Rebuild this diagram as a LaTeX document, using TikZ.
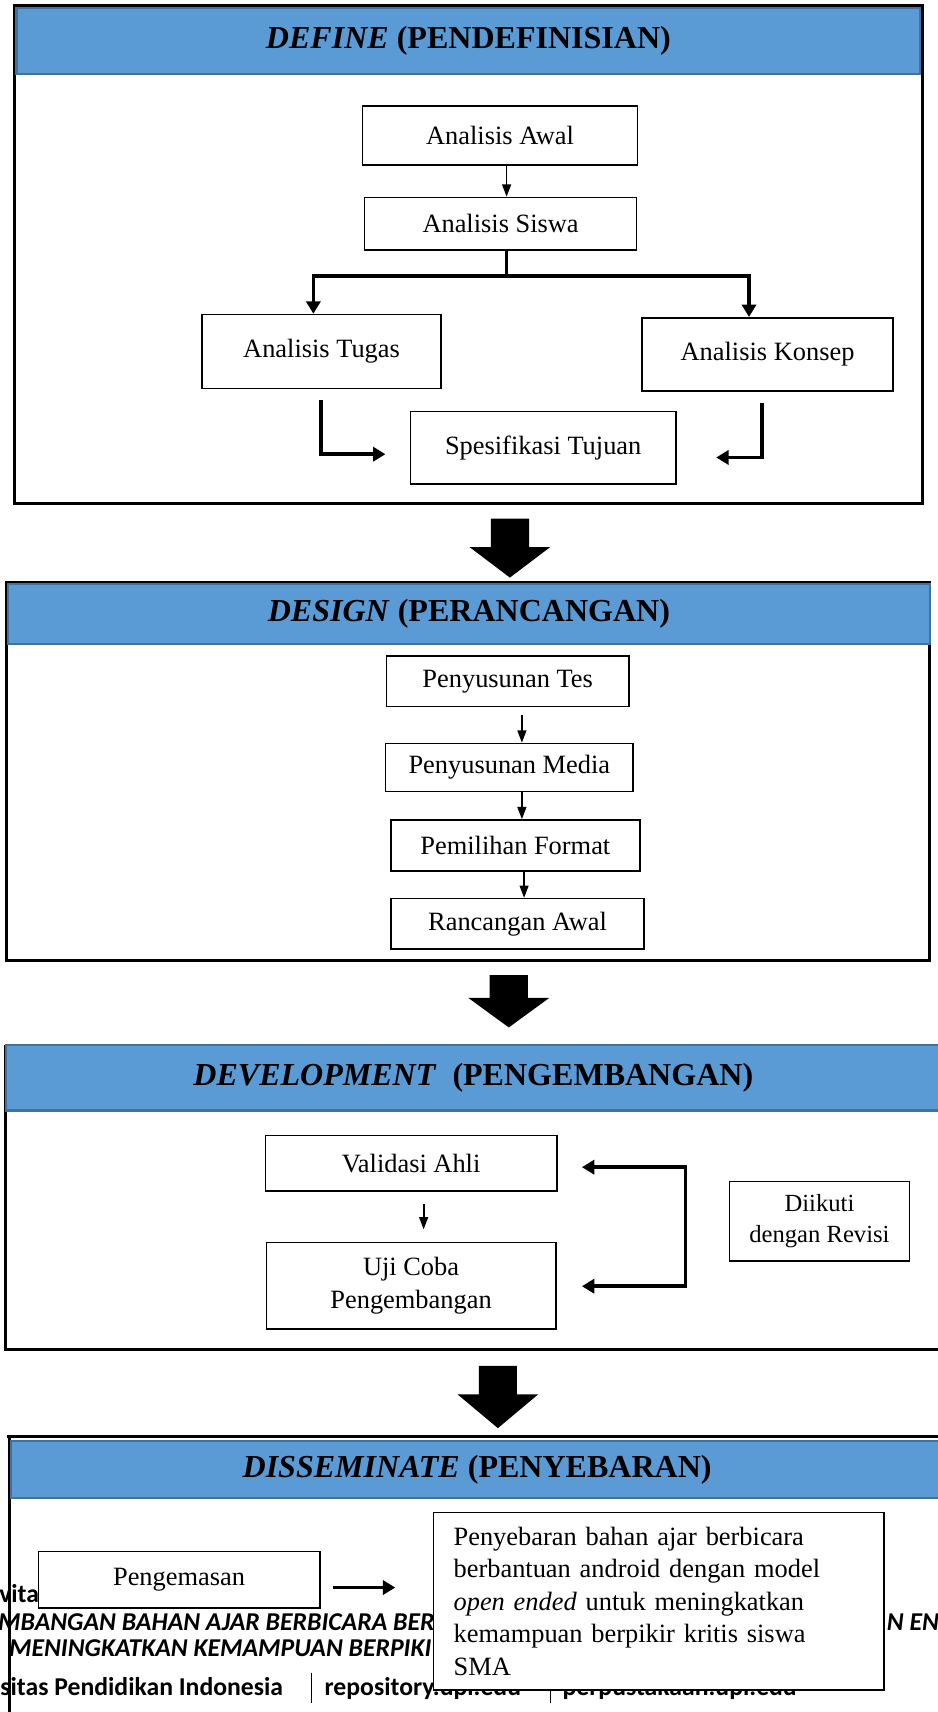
\documentclass[tikz,border=0pt]{standalone}
\usepackage{fontspec}
\setmainfont{Liberation Serif}
\newfontfamily\footfont{Carlito}
\usetikzlibrary{arrows.meta, positioning}
\definecolor{headblue}{RGB}{91,155,213}
\definecolor{headline}{RGB}{65,113,156}
\tikzset{
  stage/.style={draw=headline, line width=1.2pt, fill=headblue, inner sep=0pt, font=\fontsize{18.2}{21}\selectfont\bfseries},
  box/.style={draw, line width=0.9pt, fill=white, inner sep=0pt, align=center, font=\fontsize{15}{18.5}\selectfont},
  thinarrow/.style={line width=1pt, -{Triangle[length=7pt,width=5pt]}},
  fatarrow/.style={line width=2pt, -{Triangle[length=7pt,width=8pt]}},
  frame/.style={line width=1.6pt},
  foot/.style={anchor=base west, inner sep=0pt, font=\footfont\fontsize{14.6}{16}\selectfont\bfseries}
}

\begin{document}
\begin{tikzpicture}[x=0.0218cm, y=-0.0218cm]
\useasboundingbox (0,0) rectangle (859,1568);
\clip (0,0) rectangle (859,1568);

% DEFINE
\draw[frame] (13,5) rectangle (845,461);
\node[stage, minimum width=18.05cm, minimum height=1.33cm] (hdef) at (429,37.5) {\textit{DEFINE} (PENDEFINISIAN)};
\node[box, minimum width=5.49cm, minimum height=1.18cm] (awal) at (458,124) {Analisis Awal};
\node[box, minimum width=5.43cm, minimum height=1.05cm] (siswa) at (458.5,205) {Analisis Siswa};
\node[box, minimum width=4.77cm, minimum height=1.48cm] (tugas) at (294.5,322) {Analisis Tugas};
\node[box, minimum width=5.01cm, minimum height=1.46cm] (konsep) at (703,324.5) {Analisis Konsep};
\node[box, minimum width=5.30cm, minimum height=1.44cm] (tujuan) at (497.5,410) {Spesifikasi Tujuan};
\draw[thinarrow] (awal.south -| 464,0) -- (siswa.north -| 464,0);
\coordinate (split) at (464,253);
\draw[line width=2pt] (siswa.south -| split) -- (split);
\draw[fatarrow] (split) -| (tugas.north -| 287,0);
\draw[fatarrow] (split) -| (konsep.north -| 686,0);
\coordinate (tgA) at (294,366);
\coordinate (tgB) at (353,416);
\draw[fatarrow] (tgA) |- (tgB);
\coordinate (ksA) at (698,369);
\coordinate (ksB) at (656,419);
\draw[fatarrow] (ksA) |- (ksB);

% big arrows between the stages
\foreach \cx/\ya/\yb/\yc in {467/475/501/529, 466/893/914/941, 456/1251/1277/1308}
  \fill (\cx-17.5,\ya) -- (\cx+17.5,\ya) -- (\cx+17.5,\yb) -- (\cx+37,\yb)
    -- (\cx,\yc) -- (\cx-37,\yb) -- (\cx-17.5,\yb) -- cycle;

% DESIGN
\draw[frame] (6,533) rectangle (851,880);
\node[stage, minimum width=18.42cm, minimum height=1.20cm] (hdes) at (429.5,562.5) {\textit{DESIGN} (PERANCANGAN)};
\node[box, minimum width=4.84cm, minimum height=1.00cm] (tes) at (465,624) {Penyusunan Tes};
\node[box, minimum width=4.95cm, minimum height=0.96cm] (media) at (466.5,703) {Penyusunan Media};
\node[box, minimum width=4.97cm, minimum height=1.02cm] (format) at (472,774.5) {Pemilihan Format};
\node[box, minimum width=5.06cm, minimum height=1.00cm] (rancangan) at (474,846) {Rancangan Awal};
\coordinate (tesA) at (478,655);
\draw[thinarrow] (tesA) -- (media.north -| tesA);
\draw[thinarrow] (media.south -| 478,0) -- (format.north -| 478,0);
\draw[thinarrow] (format.south -| 480,0) -- (rancangan.north -| 480,0);

% DEVELOPMENT
\draw[frame] (5,957) -- (5,1236) -- (865,1236);
\node[stage, minimum width=18.68cm, minimum height=1.31cm] (hdev) at (433.5,987) {\textit{DEVELOPMENT}\ \ (PENGEMBANGAN)};
\node[box, minimum width=5.82cm, minimum height=1.11cm] (validasi) at (376.5,1065.5) {Validasi Ahli};
\node[box, minimum width=5.78cm, minimum height=1.72cm] (ujicoba) at (376.5,1177.5) {Uji Coba\\ Pengembangan};
\node[box, minimum width=3.60cm, minimum height=1.59cm, font=\fontsize{14}{17.5}\selectfont] (revisi) at (750.5,1118.5) {Diikuti\\ dengan Revisi};
\coordinate (vaA) at (388,1103);
\coordinate (vaB) at (388,1126);
\draw[thinarrow] (vaA) -- (vaB);
\coordinate (rvA) at (533,1069);
\coordinate (rvB) at (533,1178);
\draw[line width=2pt, {Triangle[length=7pt,width=8pt]}-{Triangle[length=7pt,width=8pt]}]
  (rvA) -- (rvA -| 628,0) -- (rvB -| 628,0) -- (rvB);

% DISSEMINATE
\draw[frame] (6,1316) -- (865,1316);
\draw[frame] (9,1316) -- (9,1575);
\node[stage, minimum width=18.6cm, minimum height=1.13cm] (hdis) at (437,1346) {\textit{DISSEMINATE} (PENYEBARAN)};
% page footer showing through
\node[foot] (ft1) at (-1,1468) {vita};
\node[foot] (ft2) at (-2,1493) {\itshape MBANGAN BAHAN AJAR BERBICARA BER};
\node[foot] (ft3) at (812,1493) {\itshape N EN};
\node[foot] (ft4) at (8,1517) {\itshape MENINGKATKAN KEMAMPUAN BERPIKI};
\node[foot] (ft5) at (0,1553) {sitas Pendidikan Indonesia};
\node[foot] (ft6) at (297,1553) {repository.upi.edu};
\node[foot] (ft7) at (515,1553) {perpustakaan.upi.edu};
\draw[line width=0.6pt] (285,1532) -- (285,1560);
\draw[line width=0.6pt] (504,1535) -- (504,1560);
\node[box, minimum width=5.62cm, minimum height=1.13cm] (kemas) at (164,1447) {Pengemasan};
\node[box, minimum width=9.0cm, minimum height=3.55cm, text width=8.2cm, align=left] (sebar) at (603.5,1466.5)
  {Penyebaran bahan ajar berbicara\\ berbantuan android dengan model\\ \textit{open ended} untuk meningkatkan\\ kemampuan berpikir kritis siswa\\ SMA};
\coordinate (kmA) at (305,1454);
\coordinate (kmB) at (362,1454);
\draw[fatarrow] (kmA) -- (kmB);
\end{tikzpicture}
\end{document}
